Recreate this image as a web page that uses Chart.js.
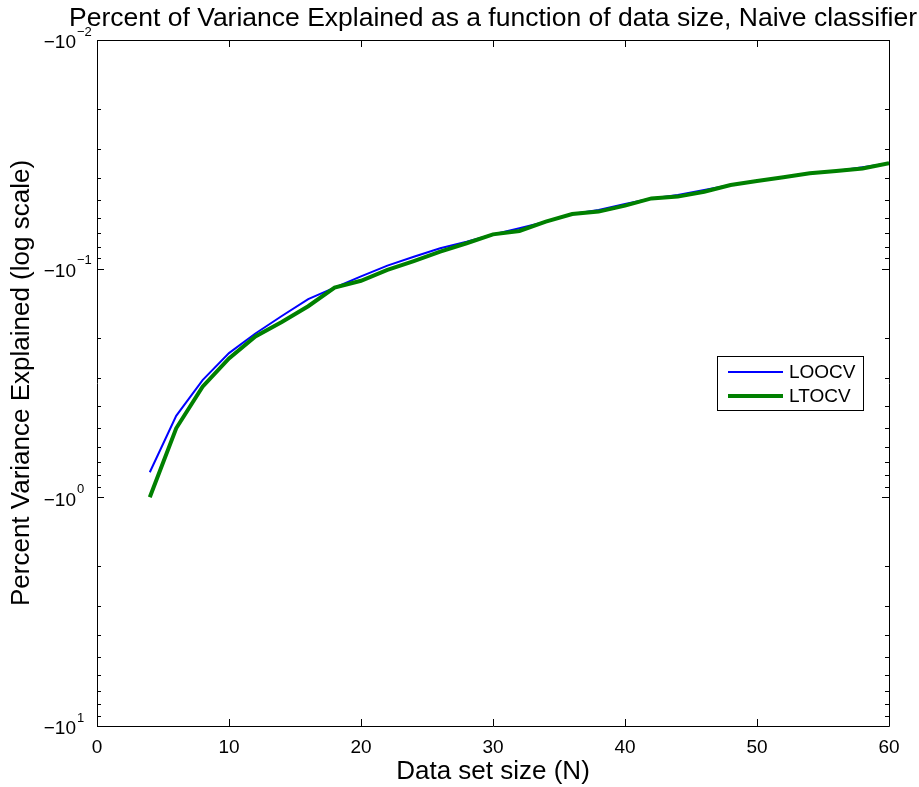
<!DOCTYPE html>
<html>
<head>
<meta charset="utf-8">
<title>Percent of Variance Explained</title>
<script src="https://cdn.jsdelivr.net/npm/chart.js@4/dist/chart.umd.min.js"></script>
<style>
  body { margin: 0; background: #fff; }
  #wrap { width: 919px; height: 787px; }
</style>
</head>
<body>
<div id="wrap"><canvas id="myChart" width="919" height="787"></canvas></div>
<script>
// Data set size (N)
const sizes = [4, 6, 8, 10, 12, 14, 16, 18, 20, 22, 24, 26, 28, 30, 32, 34, 36, 38, 40, 42, 44, 46, 48, 50, 52, 54, 56, 58, 60];

// Percent of variance explained (negative values)
const loocv = [-0.777, -0.44, -0.307, -0.234, -0.192, -0.161, -0.136, -0.121, -0.108, -0.097, -0.0887, -0.0814, -0.0762, -0.0708,
  -0.0666, -0.0623, -0.0577, -0.0554, -0.0521, -0.0493, -0.0476, -0.0453, -0.0431, -0.0414, -0.0398, -0.0383, -0.0374, -0.036, -0.0346];
const ltocv = [-1.0, -0.499, -0.328, -0.247, -0.198, -0.171, -0.146, -0.121, -0.113, -0.1013, -0.0926, -0.0843, -0.0774, -0.0708,
  -0.0684, -0.0623, -0.0577, -0.0563, -0.053, -0.0493, -0.0484, -0.0461, -0.0431, -0.0414, -0.0398, -0.0383, -0.0374, -0.0365, -0.0346];

// tick labels
const xTicks = [0, 10, 20, 30, 40, 50, 60];
const yDecades = [-2, -1, 0, 1];

const titleText = 'Percent of Variance Explained as a function of data size, Naive classifier';

const FONT = 'Arial, "Liberation Sans", Helvetica, sans-serif';

// puntos (magnitud, eje log invertido)
function toPoints(vals) {
  return sizes.map((n, i) => ({ x: n, y: -vals[i] }));
}

// ejes estilo MATLAB: caja, marcas hacia dentro, etiquetas -10^k, título y leyenda
const matlabAxes = {
  id: 'matlabAxes',
  afterDatasetsDraw(chart) {
    const ctx = chart.ctx;
    const a = chart.chartArea;
    const xs = chart.scales.x;
    const ys = chart.scales.y;
    ctx.save();
    ctx.strokeStyle = '#000';
    ctx.lineWidth = 1;
    ctx.beginPath();
    ctx.rect(Math.round(a.left) + 0.5, Math.round(a.top) + 0.5, Math.round(a.right - a.left), Math.round(a.bottom - a.top));
    ctx.stroke();

    ctx.beginPath();
    xTicks.forEach(v => {
      const px = Math.round(xs.getPixelForValue(v)) + 0.5;
      ctx.moveTo(px, a.bottom); ctx.lineTo(px, a.bottom - 7);
      ctx.moveTo(px, a.top); ctx.lineTo(px, a.top + 7);
    });
    ys.ticks.forEach(t => {
      const py = Math.round(ys.getPixelForValue(t.value)) + 0.5;
      const len = t.major ? 7 : 4;
      ctx.moveTo(a.left, py); ctx.lineTo(a.left + len, py);
      ctx.moveTo(a.right, py); ctx.lineTo(a.right - len, py);
    });
    ctx.stroke();

    // etiquetas del eje y
    ctx.fillStyle = '#000';
    yDecades.forEach(k => {
      const py = ys.getPixelForValue(Math.pow(10, k));
      ctx.font = '19px ' + FONT;
      ctx.textAlign = 'right';
      ctx.textBaseline = 'middle';
      ctx.fillText('\u221210', a.left - 21, py + 3);
      ctx.font = '13px ' + FONT;
      ctx.textAlign = 'left';
      ctx.fillText(k < 0 ? '\u2212' + (-k) : String(k), a.left - 20, py - 8);
    });

    // título centrado sobre el área del gráfico
    ctx.font = '26.5px ' + FONT;
    ctx.textAlign = 'center';
    ctx.textBaseline = 'alphabetic';
    ctx.fillText(titleText, (a.left + a.right) / 2, 26);

    // leyenda
    const w = 146, h = 54;
    const lx = a.right - 26 - w;
    const ly = Math.round((a.top + a.bottom) / 2 - h / 2);
    ctx.fillStyle = '#fff';
    ctx.fillRect(lx, ly, w, h);
    ctx.strokeStyle = '#000';
    ctx.lineWidth = 1;
    ctx.strokeRect(lx + 0.5, ly + 0.5, w, h);
    chart.data.datasets.forEach((ds, i) => {
      const ry = ly + 16 + i * 24;
      ctx.strokeStyle = ds.borderColor;
      ctx.lineWidth = ds.borderWidth;
      ctx.beginPath();
      ctx.moveTo(lx + 11, ry);
      ctx.lineTo(lx + 66, ry);
      ctx.stroke();
      ctx.fillStyle = '#000';
      ctx.font = '19px ' + FONT;
      ctx.textAlign = 'left';
      ctx.textBaseline = 'middle';
      ctx.fillText(ds.label, lx + 72, ry + 1);
    });
    ctx.restore();
  }
};

let ctx = document.getElementById('myChart').getContext('2d');

let myChart = new Chart(ctx, {
  type: 'line',
  data: {
    datasets: [{
      label: 'LOOCV',
      data: toPoints(loocv),
      borderColor: '#0000ff',
      borderWidth: 2,
      pointRadius: 0,
      tension: 0,
      order: 1
    }, {
      label: 'LTOCV',
      data: toPoints(ltocv),
      borderColor: '#008000',
      borderWidth: 4,
      pointRadius: 0,
      tension: 0,
      order: 0
    }]
  },
  options: {
    responsive: false,
    animation: false,
    devicePixelRatio: 1,
    layout: { padding: { top: 40, right: 30, bottom: 0, left: 0 } },
    plugins: {
      legend: { display: false },
      tooltip: { enabled: false },
      title: { display: false }
    },
    scales: {
      x: {
        type: 'linear',
        min: 0,
        max: 60,
        afterBuildTicks: s => { s.ticks = xTicks.map(v => ({ value: v })); },
        afterFit: s => { s.height = 61; },
        grid: { display: false },
        border: { display: false },
        ticks: { color: '#000', font: { family: FONT, size: 19 }, padding: 2, maxRotation: 0 },
        title: {
          display: true,
          text: 'Data set size (N)',
          color: '#000',
          font: { family: FONT, size: 26 },
          padding: { top: 0, bottom: 0 }
        }
      },
      y: {
        type: 'logarithmic',
        min: 0.01,
        max: 10,
        reverse: true,
        afterBuildTicks: s => {
          const t = [];
          for (let e = -2; e <= 1; e++) {
            for (let m = 1; m <= 9; m++) {
              const v = m * Math.pow(10, e);
              if (v <= 10 + 1e-9) t.push({ value: v, major: m === 1 });
            }
          }
          s.ticks = t;
        },
        afterFit: s => { s.width = 97; },
        grid: { display: false },
        border: { display: false },
        ticks: { display: false },
        title: {
          display: true,
          text: 'Percent Variance Explained (log scale)',
          color: '#000',
          font: { family: FONT, size: 26 },
          padding: { top: 6.4, bottom: 0 }
        }
      }
    }
  },
  plugins: [matlabAxes]
});
</script>
</body>
</html>
